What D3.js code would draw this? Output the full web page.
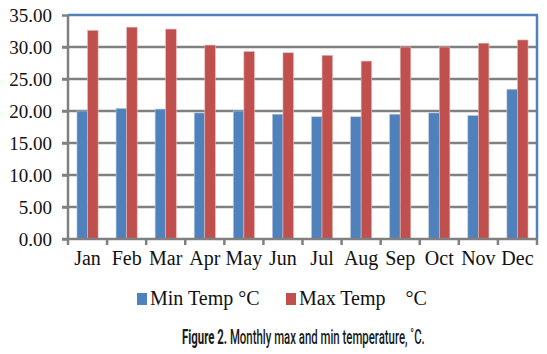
<!doctype html>
<html>
<head>
<meta charset="utf-8">
<style>
  body { margin: 0; background: #fff; }
  svg { display: block; }
  .lbl { font-family: "Liberation Serif", "Times New Roman", serif; font-size: 20px; fill: #111; }
  .ylbl { font-family: "Liberation Serif", "Times New Roman", serif; font-size: 19px; fill: #111; }
</style>
</head>
<body>
<svg id="chart"></svg>
<script src="https://cdnjs.cloudflare.com/ajax/libs/d3/7.8.5/d3.min.js"></script>
<script>
const months = ["Jan", "Feb", "Mar", "Apr", "May", "Jun", "Jul", "Aug", "Sep", "Oct", "Nov", "Dec"];
const minTemp = [20.0, 20.4, 20.3, 19.7, 20.0, 19.5, 19.1, 19.1, 19.5, 19.7, 19.3, 23.4];
const maxTemp = [32.6, 33.1, 32.8, 30.3, 29.3, 29.1, 28.7, 27.8, 30.0, 30.0, 30.6, 31.1];
const yTicks = [0, 5, 10, 15, 20, 25, 30, 35];
const seriesNames = ["Min Temp °C", "Max Temp    °C"];
const colors = ["#4F81BD", "#C0504D"];

const width = 547, height = 354;
const plotLeft = 68, plotRight = 537, plotTop = 15, plotBottom = 239;

let svg = d3.select("#chart").attr("width", width).attr("height", height);

let x = d3.scaleBand().domain(months).range([plotLeft, plotRight]).paddingInner(0).paddingOuter(0);
let inner = d3.scaleBand().domain([0, 1]).range([0, x.bandwidth()]).paddingInner(0).paddingOuter(0.85);
let y = d3.scaleLinear().domain([0, 35]).range([plotBottom, plotTop]);

// gridlines + left ticks
svg.append("g")
  .selectAll("line")
  .data(yTicks.filter(d => d > 0 && d < 35))
  .enter()
  .append("line")
    .attr("x1", plotLeft - 6).attr("x2", plotRight)
    .attr("y1", d => y(d)).attr("y2", d => y(d))
    .attr("stroke", "#808080").attr("stroke-width", 2.5);

// bars
let data = months.map((m, i) => ({ m: m, vals: [minTemp[i], maxTemp[i]] }));
svg.append("g")
  .selectAll("g")
  .data(data)
  .enter()
  .append("g")
    .attr("transform", d => "translate(" + x(d.m) + ",0)")
  .selectAll("rect")
  .data(d => d.vals.map((v, k) => ({ v: v, k: k })))
  .enter()
  .append("rect")
    .attr("x", d => inner(d.k))
    .attr("width", inner.bandwidth())
    .attr("y", d => y(d.v))
    .attr("height", d => plotBottom - y(d.v))
    .attr("fill", d => colors[d.k])
    .attr("stroke", d => d.k ? "#e8b8b8" : "#b8c8e0")
    .attr("stroke-width", 0.6);

// top and right border
svg.append("line").attr("x1", plotLeft).attr("x2", plotRight + 1).attr("y1", y(35)).attr("y2", y(35))
  .attr("stroke", "#4F81BD").attr("stroke-width", 2.5);
svg.append("line").attr("x1", plotRight).attr("x2", plotRight).attr("y1", y(35)).attr("y2", plotBottom)
  .attr("stroke", "#4F81BD").attr("stroke-width", 2.5);

// y axis
let yAxis = svg.append("g").attr("transform", "translate(" + plotLeft + ",0)")
  .call(d3.axisLeft(y).tickValues(yTicks).tickFormat(d3.format(".2f")).tickSize(6).tickPadding(10));
yAxis.attr("font-family", null).attr("font-size", null);
yAxis.select(".domain").attr("stroke", "#808080").attr("stroke-width", 2.5).attr("d", "M0," + plotTop + "V" + plotBottom);
yAxis.selectAll(".tick line").attr("stroke", "#808080").attr("stroke-width", 2.5);
yAxis.selectAll(".tick text").attr("class", "ylbl").attr("fill", null);

// x axis
let xAxis = svg.append("g").attr("transform", "translate(0," + plotBottom + ")")
  .call(d3.axisBottom(x).tickSize(0).tickPadding(12));
xAxis.attr("font-family", null).attr("font-size", null);
xAxis.select(".domain").attr("stroke", "#808080").attr("stroke-width", 2.5).attr("d", "M" + (plotLeft - 6) + ",0H" + plotRight);
xAxis.selectAll(".tick text").attr("class", "lbl").attr("fill", null);
xAxis.append("g").selectAll("line")
  .data(months.map(m => x(m)).concat([plotRight]))
  .enter()
  .append("line")
    .attr("x1", d => d).attr("x2", d => d).attr("y1", 0).attr("y2", 6)
    .attr("stroke", "#808080").attr("stroke-width", 2.5);

// legend
let legendX = [137, 286];
let legend = svg.append("g").selectAll("g")
  .data(seriesNames)
  .enter()
  .append("g")
    .attr("transform", (d, i) => "translate(" + legendX[i] + ",293)");
legend.append("rect").attr("width", 10).attr("height", 12).attr("fill", (d, i) => colors[i]);
legend.append("text").attr("class", "lbl").attr("x", 13).attr("y", 12)
  .style("white-space", "pre").attr("xml:space", "preserve").text(d => d);

// caption, condensed by horizontal scaling
let cap = svg.append("text")
  .attr("font-family", "Roboto, 'Open Sans', sans-serif").attr("font-size", 20).attr("fill", "#1a1a1a");
cap.append("tspan").attr("font-weight", "bold").text("Figure 2.");
cap.append("tspan").attr("font-weight", 500).text(" Monthly max and min temperature, ˚C.");
let capW = cap.node().getComputedTextLength();
cap.attr("transform", "translate(182,344) scale(" + (243 / capW) + ",1)");
</script>
</body>
</html>
